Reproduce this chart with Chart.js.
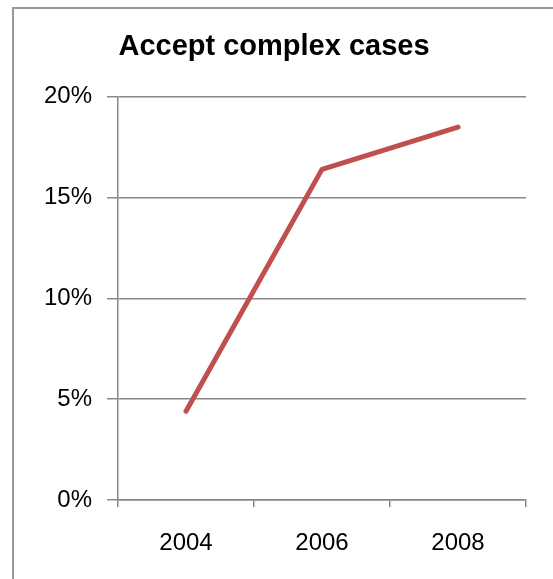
<!DOCTYPE html>
<html>
<head>
<meta charset="utf-8">
<script src="https://cdn.jsdelivr.net/npm/chart.js@4"></script>
<style>
  html, body { margin: 0; padding: 0; background: #fff; }
  body { width: 553px; height: 579px; position: relative; overflow: hidden; }
  #frame { position: absolute; left: 12px; top: 7px; width: 560px; height: 600px; border: 2px solid #999; box-sizing: border-box; }
  #chart { position: absolute; left: 0; top: 0; }
</style>
</head>
<body>
<div id="frame"></div>
<canvas id="chart" width="553" height="579"></canvas>
<script>
// 연도별 비율 (%)
const years = ['2004', '2006', '2008'];
const acceptComplex = [4.4, 16.4, 18.5];
const yTicks = [0, 5, 10, 15, 20];

const font = '"Liberation Sans", Arial, sans-serif';
const gridColor = '#888';

const ctx = document.getElementById('chart').getContext('2d');
new Chart(ctx, {
  type: 'line',
  data: {
    labels: years,
    datasets: [{
      label: 'Accept complex cases',
      data: acceptComplex,
      borderColor: '#C0504D',
      borderWidth: 5,
      borderCapStyle: 'round',
      borderJoinStyle: 'round',
      pointRadius: 0,
      tension: 0,
      fill: false
    }]
  },
  options: {
    responsive: false,
    animation: false,
    layout: { padding: { left: 22, right: 27, top: 0, bottom: 0 } },
    plugins: {
      legend: { display: false },
      tooltip: { enabled: false },
      title: {
        display: true,
        text: 'Accept complex cases',
        color: '#000',
        font: { family: font, size: 29, weight: 'bold' },
        padding: { top: 30, bottom: 32 }
      }
    },
    scales: {
      x: {
        offset: true,
        grid: { offset: true, drawOnChartArea: false, color: gridColor, tickLength: 7, lineWidth: 1.5 },
        border: { color: gridColor, width: 1.5 },
        ticks: { color: '#000', font: { family: font, size: 24 }, padding: 22, maxRotation: 0 },
        afterFit: s => { s.height = 79; }
      },
      y: {
        min: 0,
        max: 20,
        afterBuildTicks: s => { s.ticks = yTicks.map(v => ({ value: v })); },
        grid: { color: gridColor, tickLength: 11, lineWidth: 1.5 },
        border: { color: gridColor, width: 1.5 },
        ticks: { color: '#000', font: { family: font, size: 24 }, padding: 15, callback: v => v + '%' },
        afterFit: s => { s.width = 96; }
      }
    }
  }
});
</script>
</body>
</html>
